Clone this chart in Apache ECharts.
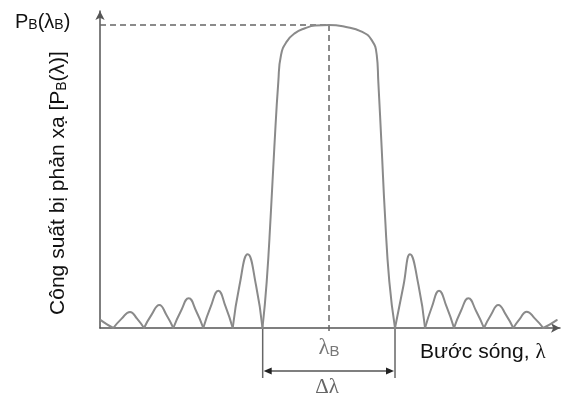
<!DOCTYPE html>
<html><head><meta charset="utf-8">
<script src="https://cdn.jsdelivr.net/npm/echarts@6/dist/echarts.min.js"></script>
<style>html,body{margin:0;padding:0;background:#fff}#c{width:565px;height:396px}</style>
</head><body><div id="c"></div>
<script>
// Relative wavelength (band edges at about ±1, λB at 0)
const lambda = [
  -3.459, -3.364, -3.268, -3.142, -3.015, -2.909, -2.803, -2.688, -2.571, -2.465,
  -2.359, -2.242, -2.126, -2.015, -1.905, -1.791, -1.677, -1.568, -1.459, -1.356,
  -1.232, -1.106, -1.008,
  -0.944, -0.883, -0.829, -0.768, -0.727, -0.641, -0.515, -0.364, -0.212, 0,
  0.242, 0.495, 0.647, 0.723, 0.747, 0.798, 0.848, 0.914, 1.0,
  1.129, 1.227, 1.356, 1.455, 1.561, 1.667, 1.780, 1.894, 2.0, 2.111, 2.227, 2.348,
  2.455, 2.565, 2.679, 2.792, 2.894, 2.995, 3.121, 3.247, 3.348, 3.45
];
// Normalised reflected power P_B(λ)/P_B(λB)
const power = [
  0.026, 0.012, 0, 0.031, 0.053, 0.031, 0, 0.044, 0.076, 0.044,
  0, 0.057, 0.098, 0.057, 0, 0.071, 0.123, 0.071, 0, 0.141,
  0.243, 0.141, 0,
  0.153, 0.373, 0.594, 0.813, 0.901, 0.945, 0.973, 0.989, 0.998, 1,
  0.994, 0.978, 0.950, 0.901, 0.813, 0.594, 0.373, 0.153, 0,
  0.141, 0.243, 0.141, 0, 0.071, 0.123, 0.071, 0, 0.057, 0.098, 0.057, 0,
  0.044, 0.076, 0.044, 0, 0.031, 0.054, 0.031, 0, 0.012, 0.026
];
const xRange = [-3.47, 3.5];
const yRange = [0, 1.046];
const peakPoint = [0, 1];
const bandEdges = [-1.005, 1.0];
const belowAxis = { dashEnd: -0.023, arrowLevel: -0.142, edgeEnd: -0.165 };
const texts = {
  xName: 'Bước sóng, ',
  yName: 'Công suất bị phản xạ [P',
  peakName: 'P'
};

// Split the curve into lobes at its zeros so each zero is a sharp notch
const lobes = [];
let cur = [];
lambda.forEach((x, i) => {
  cur.push([x, power[i]]);
  if (power[i] === 0 && cur.length > 1) { lobes.push(cur); cur = [[x, power[i]]]; }
});
if (cur.length > 1) lobes.push(cur);

const chart = echarts.init(document.getElementById('c'));
const axisCol = '#555';
chart.setOption({
  animation: false,
  grid: { left: 100, right: 5, top: 11, bottom: 68 },
  xAxis: {
    type: 'value', min: xRange[0], max: xRange[1],
    axisLine: { show: true, onZero: false, symbol: ['none', 'arrow'], symbolSize: [7, 9],
      lineStyle: { color: axisCol, width: 1.5 } },
    axisTick: { show: false }, axisLabel: { show: false }, splitLine: { show: false }
  },
  yAxis: {
    type: 'value', min: yRange[0], max: yRange[1],
    axisLine: { show: true, onZero: false, symbol: ['none', 'arrow'], symbolSize: [7, 9],
      lineStyle: { color: axisCol, width: 1.5 } },
    axisTick: { show: false }, axisLabel: { show: false }, splitLine: { show: false }
  },
  series: lobes.map(seg => ({
    type: 'line',
    data: seg,
    smooth: 0.5,
    showSymbol: false,
    lineStyle: { color: '#8a8a8a', width: 2, cap: 'round', join: 'round' },
    z: 3
  }))
});

const px = (x, y) => chart.convertToPixel({ gridIndex: 0 }, [x, y]);
const pTop = px(peakPoint[0], peakPoint[1]);
const pLeft = px(xRange[0], peakPoint[1]);
const pDashEnd = px(peakPoint[0], belowAxis.dashEnd);
const e1a = px(bandEdges[0], 0), e1b = px(bandEdges[0], belowAxis.edgeEnd);
const e2a = px(bandEdges[1], 0), e2b = px(bandEdges[1], belowAxis.edgeEnd);
const ay = px(0, belowAxis.arrowLevel)[1];
const labelY = px(0, -0.063)[1];
const dlY = px(0, -0.195)[1];
const xNameY = px(0, -0.08)[1];

const sans = 'Liberation Sans, Arial, sans-serif';
const serif = 'Liberation Serif, Times New Roman, serif';
const dash = { stroke: '#666', lineWidth: 1.5, lineDash: [6, 4] };
chart.setOption({
  graphic: [
    { type: 'line', shape: { x1: pLeft[0], y1: pLeft[1], x2: pTop[0], y2: pTop[1] }, style: dash, z: 2 },
    { type: 'line', shape: { x1: pTop[0], y1: pTop[1], x2: pDashEnd[0], y2: pDashEnd[1] }, style: dash, z: 2 },
    { type: 'line', shape: { x1: e1a[0], y1: e1a[1], x2: e1b[0], y2: e1b[1] }, style: { stroke: '#666', lineWidth: 1.5 } },
    { type: 'line', shape: { x1: e2a[0], y1: e2a[1], x2: e2b[0], y2: e2b[1] }, style: { stroke: '#666', lineWidth: 1.5 } },
    { type: 'line', shape: { x1: e1a[0] + 4, y1: ay, x2: e2a[0] - 4, y2: ay }, style: { stroke: '#555', lineWidth: 1.5 } },
    { type: 'polygon', shape: { points: [[e1a[0] + 1, ay], [e1a[0] + 9, ay - 3.5], [e1a[0] + 9, ay + 3.5]] }, style: { fill: '#222' } },
    { type: 'polygon', shape: { points: [[e2a[0] - 1, ay], [e2a[0] - 9, ay - 3.5], [e2a[0] - 9, ay + 3.5]] }, style: { fill: '#222' } },
    { type: 'text', x: pTop[0], y: labelY, style: {
        text: '{l|λ}{s|B}', align: 'center', verticalAlign: 'middle',
        rich: { l: { font: '23px ' + serif, fill: '#777', lineHeight: 24, verticalAlign: 'bottom' },
                s: { font: '15px ' + sans, fill: '#777', lineHeight: 13, verticalAlign: 'bottom' } } } },
    { type: 'text', x: pTop[0] - 2, y: dlY, style: {
        text: 'Δλ', font: '21px ' + serif, fill: '#666', align: 'center', verticalAlign: 'middle' } },
    { type: 'text', x: 420, y: xNameY, style: {
        text: '{t|' + texts.xName + '}{l|λ}', align: 'left', verticalAlign: 'middle',
        rich: { t: { font: '21px ' + sans, fill: '#111' }, l: { font: '21px ' + serif, fill: '#111' } } } },
    { type: 'text', x: 57, y: 183, rotation: Math.PI / 2, style: {
        text: '{t|' + texts.yName + '}{s|B}{t|(λ)]}', align: 'center', verticalAlign: 'middle',
        rich: { t: { font: '21px ' + sans, fill: '#111', lineHeight: 24, verticalAlign: 'bottom' },
                s: { font: '14px ' + sans, fill: '#111', lineHeight: 13, verticalAlign: 'bottom' } } } },
    { type: 'text', x: 15, y: 21, style: {
        text: '{t|' + texts.peakName + '}{s|B}{t|(λ}{s|B}{t|)}', align: 'left', verticalAlign: 'middle',
        rich: { t: { font: '20px ' + sans, fill: '#111', lineHeight: 23, verticalAlign: 'bottom' },
                s: { font: '14px ' + sans, fill: '#111', lineHeight: 13, verticalAlign: 'bottom' } } } }
  ]
});
</script></body></html>
